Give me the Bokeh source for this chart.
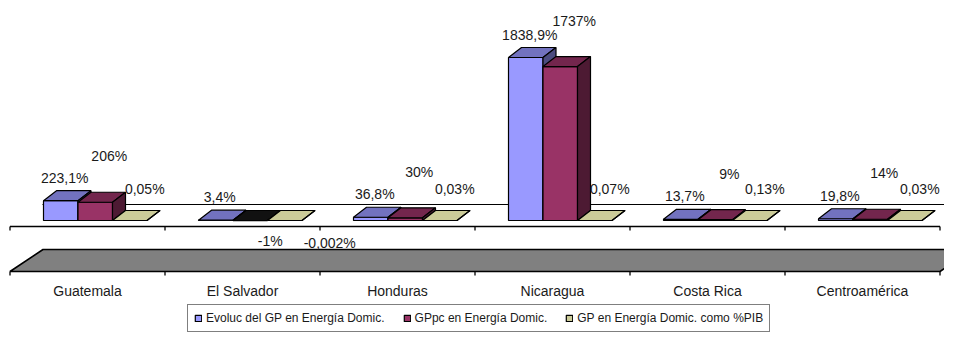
from bokeh.plotting import figure
from bokeh.models import Range1d, Legend, LegendItem, ColumnDataSource
from bokeh.core.properties import value
from bokeh.embed import file_html
from bokeh.resources import INLINE

# ---------------- data ----------------
categories = ["Guatemala", "El Salvador", "Honduras", "Nicaragua", "Costa Rica", "Centroamérica"]
evoluc_gp = [223.1, 3.4, 36.8, 1838.9, 13.7, 19.8]
gppc_energia = [206, -1, 30, 1737, 9, 14]
gp_pct_pib = [0.05, -0.002, 0.03, 0.07, 0.13, 0.03]
series_names = ["Evoluc del GP en Energía Domic.",
                "GPpc en Energía Domic.",
                "GP en Energía Domic. como %PIB"]
series_values = [evoluc_gp, gppc_energia, gp_pct_pib]

# ---------------- styles ----------------
FONT = "Liberation Sans"
front_colors = ["#9999FF", "#993366", "#CCCC99"]
top_colors = ["#7272BF", "#73264D", "#CCCC99"]
side_colors = ["#4C4C80", "#4D1A33", "#99996F"]
neg_top_colors = ["#333366", "#111111", "#CCCC99"]

W, H = 944, 332
CX0 = 87.0          # px of first category centre
CAT_PX = 155.0      # px per category
ZERO_Y = 220.0      # px of value 0
K = 163.0 / 1838.9  # px per value unit


def xd(px):
    return (px - CX0) / CAT_PX


def yd(py):
    return (ZERO_Y - py) / K


p = figure(width=W, height=H, output_backend="svg", toolbar_location=None,
           x_range=Range1d(xd(0), xd(W)), y_range=Range1d(yd(H), yd(0)),
           x_axis_location=None, y_axis_location=None, min_border=0)
p.grid.visible = False
p.outline_line_color = None
p.background_fill_color = "white"
p.border_fill_color = "white"

n = len(categories)
bounds = [i - 0.5 for i in range(n + 1)]

# floor (zero plane) edges
p.line([xd(42), xd(990)], [yd(204), yd(204)], line_color="black", line_width=1)
p.line([bounds[0], bounds[-1]], [yd(226), yd(226)], line_color="black", line_width=1.6)
p.segment(x0=bounds, x1=bounds, y0=[yd(226)] * len(bounds), y1=[yd(230)] * len(bounds),
          line_color="black", line_width=1.3)

# 3-D bars
DX = 13 / CAT_PX
DY = 10 / K
BW = 34.5 / CAT_PX
left_off = [-44 / CAT_PX, -9.5 / CAT_PX, 25 / CAT_PX]

front_renderers = []
for s, vals in enumerate(series_values):
    fx, fy, tx, ty, sx, sy, tc = [], [], [], [], [], [], []
    for i, v in enumerate(vals):
        L = i + left_off[s]
        R = L + BW
        top = max(v, 0)
        bot = min(v, 0)
        fx.append([L, R, R, L]); fy.append([bot, bot, top, top])
        tx.append([L, R, R + DX, L + DX]); ty.append([top, top, top + DY, top + DY])
        sx.append([R, R + DX, R + DX, R]); sy.append([bot, bot + DY, top + DY, top])
        tc.append(neg_top_colors[s] if v < 0 else top_colors[s])
    r = p.patches(fx, fy, fill_color=front_colors[s], line_color="black", line_width=1.2)
    front_renderers.append(r)
    p.patches(xs="xs", ys="ys", fill_color="c", line_color="black", line_width=1.2,
              source=ColumnDataSource(dict(xs=tx, ys=ty, c=tc)))
    p.patches(sx, sy, fill_color=side_colors[s], line_color="black", line_width=1.2)

# grey lower plane
p.patch([bounds[0], bounds[-1], bounds[-1] + 33 / CAT_PX, bounds[0] + 33 / CAT_PX],
        [yd(271), yd(271), yd(249), yd(249)],
        fill_color="#808080", line_color="black", line_width=1.6)
p.segment(x0=bounds, x1=bounds, y0=[yd(271)] * len(bounds), y1=[yd(275)] * len(bounds),
          line_color="black", line_width=1.3)

# category labels
p.text(x=list(range(n)), y=[yd(290)] * n, text=categories,
       text_font=value(FONT), text_font_size=value("14px"), text_color="#1a1a1a",
       text_align="center", text_baseline="middle")


# data labels
def fmt(v):
    return f"{v:g}".replace(".", ",") + "%"


pos_off = [(4, 23), (14, 46), (15, 31)]
neg_off = [(6, -20), (20, -20), (45, -22)]
lx, ly, lt = [], [], []
for s, vals in enumerate(series_values):
    for i, v in enumerate(vals):
        cx = i + left_off[s] + BW / 2
        if v >= 0:
            ox, oy = pos_off[s]
            lx.append(cx + ox / CAT_PX)
            ly.append(v + oy / K)
        else:
            ox, oy = neg_off[s]
            lx.append(cx + ox / CAT_PX)
            ly.append(oy / K)
        lt.append(fmt(v))
p.text(x=lx, y=ly, text=lt, text_font=value(FONT), text_font_size=value("14px"),
       text_color="#1a1a1a", text_align="center", text_baseline="middle")

# legend
legend = Legend(items=[LegendItem(label=series_names[s], renderers=[front_renderers[s]])
                       for s in range(3)],
                orientation="horizontal", location=(187, 0),
                glyph_width=8, glyph_height=8, label_standoff=4, spacing=18,
                padding=6, margin=0, label_height=12,
                label_text_font=FONT, label_text_font_size="12px",
                label_text_color="#1a1a1a",
                border_line_color="black", border_line_width=1,
                background_fill_color="white", background_fill_alpha=1)
p.add_layout(legend, "center")

open("out.html", "w").write(file_html(p, INLINE))
